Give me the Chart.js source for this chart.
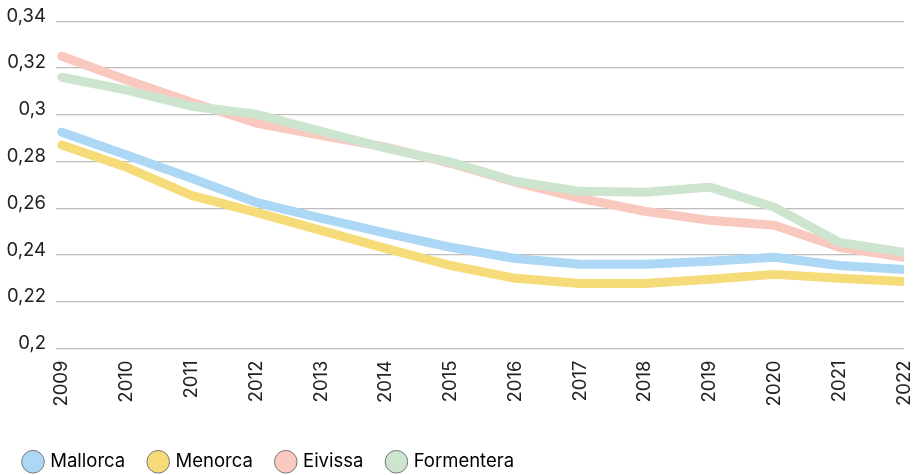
<!DOCTYPE html>
<html>
<head>
<meta charset="utf-8">
<script src="https://cdn.jsdelivr.net/npm/chart.js@4.4.1/dist/chart.umd.min.js"></script>
<style>
  html, body { margin: 0; padding: 0; background: #fff; }
  #wrap { width: 919px; height: 475px; }
</style>
</head>
<body>
<div id="wrap"><canvas id="grafic"></canvas></div>
<script>
const anys = [2009, 2010, 2011, 2012, 2013, 2014, 2015, 2016, 2017, 2018, 2019, 2020, 2021, 2022];
const mallorca   = [0.2925, 0.2827, 0.2728, 0.2625, 0.2557, 0.2493, 0.2433, 0.2385, 0.2360, 0.2360, 0.2373, 0.2390, 0.2355, 0.2338];
const menorca    = [0.2870, 0.2775, 0.2655, 0.2582, 0.2505, 0.2428, 0.2355, 0.2300, 0.2278, 0.2278, 0.2296, 0.2317, 0.2300, 0.2287];
const eivissa    = [0.3250, 0.3148, 0.3053, 0.2964, 0.2912, 0.2861, 0.2792, 0.2711, 0.2642, 0.2587, 0.2548, 0.2527, 0.2433, 0.2390];
const formentera = [0.3160, 0.3105, 0.3036, 0.3002, 0.2929, 0.2857, 0.2797, 0.2715, 0.2672, 0.2668, 0.2690, 0.2604, 0.2454, 0.2411];
const etiquetesY = ['0,2', '0,22', '0,24', '0,26', '0,28', '0,3', '0,32', '0,34'];

const illes = [
  { nom: 'Mallorca', valors: mallorca, color: '#acd8f5' },
  { nom: 'Menorca', valors: menorca, color: '#f6dc78' },
  { nom: 'Eivissa', valors: eivissa, color: '#f9c9bf' },
  { nom: 'Formentera', valors: formentera, color: '#cde4ce' }
];

const font = { family: 'Inter', size: 18.5 };

new Chart(document.getElementById('grafic'), {
  type: 'line',
  data: {
    datasets: illes.map(illa => ({
      label: illa.nom,
      data: anys.map((a, i) => ({ x: a, y: illa.valors[i] })),
      borderColor: illa.color,
      backgroundColor: illa.color,
      borderWidth: 9,
      borderCapStyle: 'round',
      borderJoinStyle: 'round',
      pointRadius: 0,
      tension: 0,
      fill: false
    })).reverse()
  },
  options: {
    responsive: true,
    maintainAspectRatio: false,
    animation: false,
    layout: { padding: { top: 14, right: 15, left: 0, bottom: -6 } },
    scales: {
      x: {
        type: 'linear',
        min: 2008.91,
        max: 2022,
        grid: { display: false, drawTicks: false },
        border: { display: false },
        afterBuildTicks: s => { s.ticks = anys.map(a => ({ value: a })); },
        afterFit: s => { s.height = 79; s.paddingRight = 0; },
        ticks: {
          color: '#222',
          font: font,
          minRotation: 90,
          maxRotation: 90,
          padding: 12,
          autoSkip: false,
          callback: v => String(v)
        }
      },
      y: {
        min: 0.2,
        max: 0.34,
        grid: { color: '#bdbdbd', lineWidth: 1.2, drawTicks: false },
        border: { display: false },
        afterFit: s => { s.width = 56; },
        ticks: {
          stepSize: 0.02,
          color: '#222',
          font: font,
          padding: 10,
          labelOffset: -5,
          callback: (v, i) => etiquetesY[i]
        }
      }
    },
    plugins: {
      tooltip: { enabled: false },
      legend: {
        position: 'bottom',
        align: 'start',
        reverse: true,
        labels: {
          color: '#222',
          font: font,
          usePointStyle: true,
          pointStyle: 'circle',
          boxWidth: 16,
          boxHeight: 16,
          padding: 25,
          generateLabels: chart => chart.data.datasets.map((d, i) => ({
            text: d.label,
            fillStyle: d.borderColor,
            strokeStyle: '#777',
            lineWidth: 1,
            pointStyle: 'circle',
            datasetIndex: i,
            hidden: false
          }))
        }
      }
    }
  }
});
</script>
</body>
</html>
